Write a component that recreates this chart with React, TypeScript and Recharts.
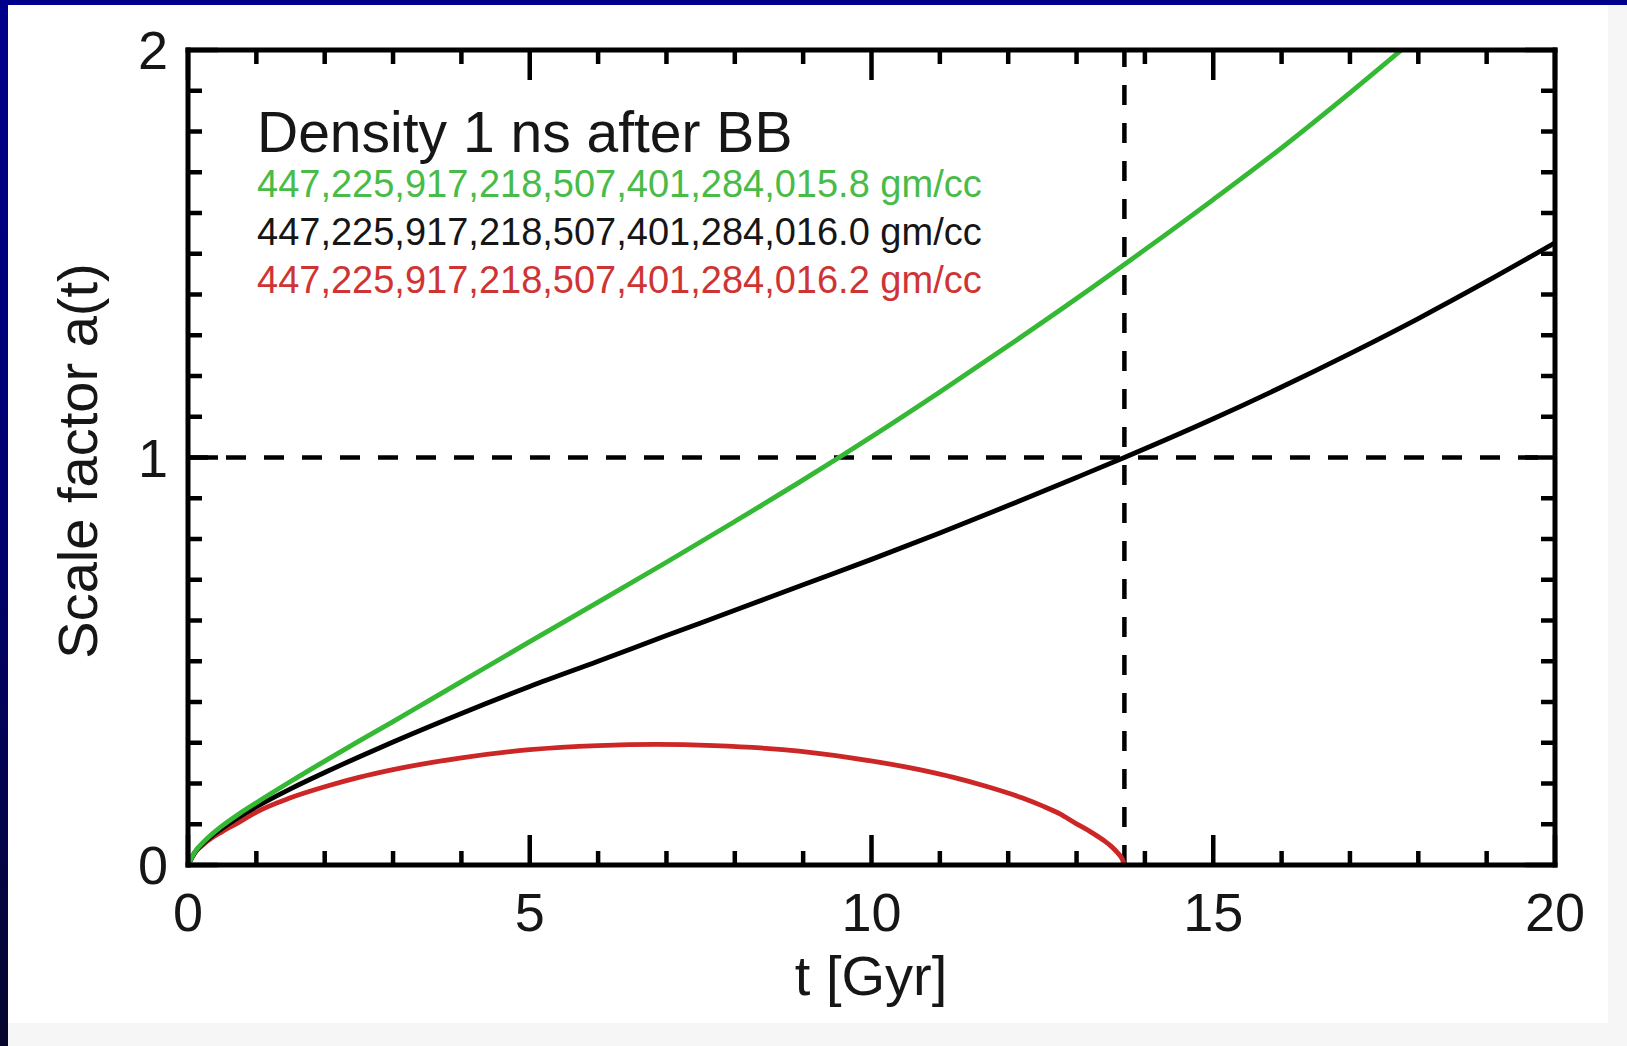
import React from 'react';
import { ComposedChart, Line, XAxis, YAxis, ReferenceLine } from 'recharts';

// ---------- data ----------
const seriesNames = [
  '447,225,917,218,507,401,284,015.8 gm/cc',
  '447,225,917,218,507,401,284,016.0 gm/cc',
  '447,225,917,218,507,401,284,016.2 gm/cc',
];
const chartTitle = 'Density 1 ns after BB';
const xTitle = 't [Gyr]';
const yTitle = 'Scale factor a(t)';

const tGreen = [0, 0.1, 0.25, 0.5, 0.75, 1, 1.5, 2, 2.5, 3, 3.5, 4, 5, 6, 7, 8, 9, 10, 11, 12, 13, 14, 15, 16, 17, 18];
const aGreen = [0, 0.032, 0.06, 0.096, 0.126, 0.153, 0.205, 0.255, 0.304, 0.352, 0.401, 0.45, 0.548, 0.645, 0.743, 0.843, 0.945, 1.051, 1.161, 1.274, 1.39, 1.51, 1.633, 1.76, 1.895, 2.035];

const tBlack = [0, 0.1, 0.25, 0.5, 0.75, 1, 1.5, 2, 2.5, 3, 4, 5, 6, 7, 8, 9, 10, 11, 12, 13, 13.7, 15, 16, 17, 18, 19, 20];
const aBlack = [0, 0.031, 0.057, 0.09, 0.118, 0.143, 0.187, 0.227, 0.265, 0.302, 0.372, 0.438, 0.5, 0.563, 0.625, 0.688, 0.75, 0.815, 0.882, 0.951, 1.0, 1.095, 1.173, 1.255, 1.341, 1.432, 1.527];

const tRed = [0, 0.1, 0.25, 0.5, 0.75, 1, 1.5, 2, 2.5, 3, 4, 5, 6, 6.85, 7.7, 8.7, 9.7, 10.7, 11.2, 11.7, 12.2, 12.5, 12.75, 13, 13.2, 13.4, 13.5, 13.6, 13.67, 13.7];
const aRed = [0, 0.03, 0.054, 0.082, 0.105, 0.13, 0.165, 0.192, 0.215, 0.234, 0.263, 0.283, 0.293, 0.296, 0.293, 0.283, 0.263, 0.234, 0.215, 0.192, 0.165, 0.145, 0.126, 0.101, 0.082, 0.06, 0.047, 0.03, 0.014, 0];

const presentAge = 13.7;
const presentScale = 1;

const xTicks = [0, 1, 2, 3, 4, 5, 6, 7, 8, 9, 10, 11, 12, 13, 14, 15, 16, 17, 18, 19, 20];
const xLabelTicks = [0, 5, 10, 15, 20];
const yTicks = [0, 0.1, 0.2, 0.3, 0.4, 0.5, 0.6, 0.7, 0.8, 0.9, 1, 1.1, 1.2, 1.3, 1.4, 1.5, 1.6, 1.7, 1.8, 1.9, 2];
const yLabelTicks = [0, 1, 2];

// ---------- styling ----------
const W = 1627;
const H = 1046;
const FONT = '"Liberation Sans", Arial, Helvetica, sans-serif';
const GREEN = '#35b935';
const RED = '#cc2626';
const GREEN_TEXT = '#48bb48';
const RED_TEXT = '#cf3434';
const DARK = '#161616';

const toPoints = (t: number[], a: number[]) => t.map((v, i) => ({ t: v, a: a[i] }));
const greenData = toPoints(tGreen, aGreen);
const blackData = toPoints(tBlack, aBlack);
const redData = toPoints(tRed, aRed);

const isMajorX = (v: number) => xLabelTicks.includes(v);
const isMajorY = (v: number) => yLabelTicks.some((m) => Math.abs(m - v) < 1e-6);

const frame = { stroke: '#000', strokeWidth: 5, strokeLinecap: 'square' as const };
const TICK_W = 4.5;
const MINOR = 14;
const MAJOR = 30;
const CURVE_W = 4.8;

const BottomTick = (p: any) => {
  const { x, y, payload } = p;
  const v = payload.value;
  const major = isMajorX(v);
  return (
    <g>
      <line x1={x} x2={x} y1={y} y2={y - (major ? MAJOR : MINOR)} stroke="#000" strokeWidth={TICK_W} />
      {major && (
        <text x={x} y={y + 66} textAnchor="middle" fontSize={54} fontFamily={FONT} fill={DARK}>
          {v}
        </text>
      )}
    </g>
  );
};

const TopTick = (p: any) => {
  const { x, y, payload } = p;
  const major = isMajorX(payload.value);
  return <line x1={x} x2={x} y1={y} y2={y + (major ? MAJOR : MINOR)} stroke="#000" strokeWidth={TICK_W} />;
};

const LeftTick = (p: any) => {
  const { x, y, payload } = p;
  const v = payload.value;
  const major = isMajorY(v);
  return (
    <g>
      <line x1={x} x2={x + (major ? MAJOR : MINOR)} y1={y} y2={y} stroke="#000" strokeWidth={TICK_W} />
      {major && (
        <text x={x - 20} y={y + 19} textAnchor="end" fontSize={54} fontFamily={FONT} fill={DARK}>
          {Math.round(v)}
        </text>
      )}
    </g>
  );
};

const RightTick = (p: any) => {
  const { x, y, payload } = p;
  const major = isMajorY(payload.value);
  return <line x1={x} x2={x - (major ? MAJOR : MINOR)} y1={y} y2={y} stroke="#000" strokeWidth={TICK_W} />;
};

export default function App() {
  const legendColors = [GREEN_TEXT, DARK, RED_TEXT];
  return (
    <div style={{ position: 'absolute', left: 0, top: 0, width: W, height: H, background: '#f6f6f6', overflow: 'hidden' }}>
      <div style={{ position: 'absolute', left: 8, top: 5, width: 1600, height: 1018, background: '#ffffff' }} />
      <div style={{ position: 'absolute', left: 0, top: 0, width: W, height: 5, background: '#00008c' }} />
      <div
        style={{
          position: 'absolute',
          left: 0,
          top: 0,
          width: 8,
          height: H,
          background: 'linear-gradient(to bottom, #00008c 0%, #000070 50%, #06062e 100%)',
        }}
      />
      <div style={{ position: 'absolute', left: 0, top: 0 }}>
        <ComposedChart width={W} height={H} margin={{ top: 30, right: 52, bottom: 81, left: 88 }}>
          <XAxis
            xAxisId={0}
            type="number"
            dataKey="t"
            domain={[0, 20]}
            allowDataOverflow
            ticks={xTicks}
            interval={0}
            tickLine={false}
            tickSize={0}
            tickMargin={0}
            axisLine={frame}
            tick={BottomTick}
            height={100}
          />
          <XAxis
            xAxisId="top"
            orientation="top"
            type="number"
            dataKey="t"
            domain={[0, 20]}
            allowDataOverflow
            ticks={xTicks}
            interval={0}
            tickLine={false}
            tickSize={0}
            tickMargin={0}
            axisLine={frame}
            tick={TopTick}
            height={20}
          />
          <YAxis
            yAxisId={0}
            type="number"
            domain={[0, 2]}
            allowDataOverflow
            ticks={yTicks}
            interval={0}
            tickLine={false}
            tickSize={0}
            tickMargin={0}
            axisLine={frame}
            tick={LeftTick}
            width={100}
          />
          <YAxis
            yAxisId="right"
            orientation="right"
            type="number"
            domain={[0, 2]}
            allowDataOverflow
            ticks={yTicks}
            interval={0}
            tickLine={false}
            tickSize={0}
            tickMargin={0}
            axisLine={frame}
            tick={RightTick}
            width={20}
          />
          <ReferenceLine xAxisId={0} yAxisId={0} y={presentScale} stroke="#000" strokeWidth={4.5} strokeDasharray="20 18" />
          <ReferenceLine xAxisId={0} yAxisId={0} x={presentAge} stroke="#000" strokeWidth={4.5} strokeDasharray="20 18" />
          <Line
            xAxisId={0}
            yAxisId={0}
            data={redData}
            dataKey="a"
            type="monotone"
            stroke={RED}
            strokeWidth={CURVE_W}
            dot={false}
            activeDot={false}
            isAnimationActive={false}
          />
          <Line
            xAxisId={0}
            yAxisId={0}
            data={blackData}
            dataKey="a"
            type="monotone"
            stroke="#000"
            strokeWidth={CURVE_W}
            dot={false}
            activeDot={false}
            isAnimationActive={false}
          />
          <Line
            xAxisId={0}
            yAxisId={0}
            data={greenData}
            dataKey="a"
            type="monotone"
            stroke={GREEN}
            strokeWidth={CURVE_W}
            dot={false}
            activeDot={false}
            isAnimationActive={false}
          />
        </ComposedChart>
      </div>
      <svg
        width={W}
        height={H}
        style={{ position: 'absolute', left: 0, top: 0, pointerEvents: 'none' }}
        fontFamily={FONT}
      >
        <text x={257} y={152} fontSize={57} fill={DARK}>
          {chartTitle}
        </text>
        {seriesNames.map((s, i) => (
          <text key={s} x={257} y={197 + i * 48} fontSize={38} fill={legendColors[i]}>
            {s}
          </text>
        ))}
        <text x={871} y={995} fontSize={56} fill={DARK} textAnchor="middle">
          {xTitle}
        </text>
        <text x={97} y={461} fontSize={56} fill={DARK} textAnchor="middle" transform="rotate(-90 97 461)">
          {yTitle}
        </text>
      </svg>
    </div>
  );
}
